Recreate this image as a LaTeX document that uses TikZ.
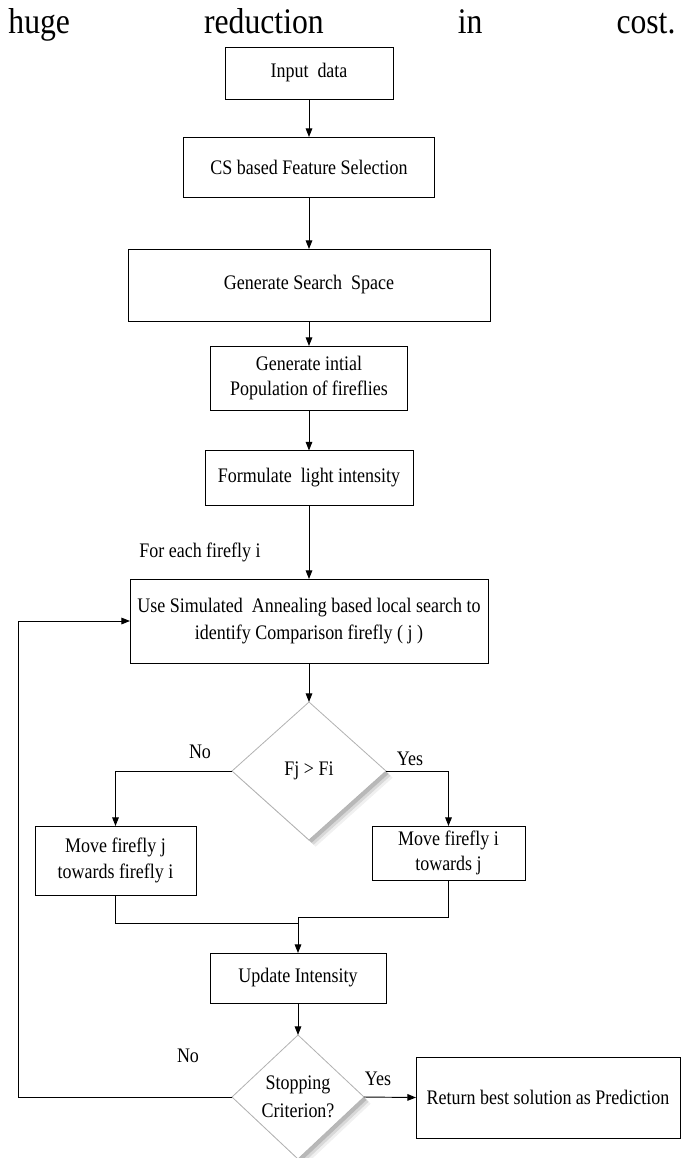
\documentclass[tikz,border=0pt]{standalone}
\usepackage{fontspec}
\setmainfont{Liberation Serif}
\newfontfamily\chartfont[FakeStretch=0.87]{Liberation Serif}
\newfontfamily\headfont[FakeStretch=0.88]{Liberation Serif}
\usetikzlibrary{arrows.meta,shapes.geometric,shadows}

\begin{document}
\begin{tikzpicture}[x=0.75pt, y=-0.75pt, line width=0.7pt,
    every node/.style={font=\chartfont\fontsize{15.5}{19}\selectfont},
    procbox/.style={draw, rectangle, inner sep=0pt, outer sep=0pt, align=center},
    decision/.style={draw=gray!60, line width=0.6pt, fill=white, diamond, inner sep=0pt, outer sep=0pt, align=center,
        drop shadow={shadow xshift=5pt, shadow yshift=-5pt, opacity=0.06, fill=black},
        drop shadow={shadow xshift=3.5pt, shadow yshift=-3.5pt, opacity=0.10, fill=black},
        drop shadow={shadow xshift=2pt, shadow yshift=-2pt, opacity=0.15, fill=black}},
    flow/.style={-{Triangle[length=6.5pt,width=5pt]}}]

    \useasboundingbox (0,0) rectangle (686,1158);

    % running text above the chart
    \node[anchor=base west, text width=500.25pt, inner sep=0pt, font=\headfont\fontsize{27}{30}\selectfont] (head) at (8,33)
        {huge\hfill reduction\hfill in\hfill cost.};

    \node[procbox, minimum width=126pt, minimum height=39pt] (input) at (309,73) {Input\ \ data};
    \node[procbox, minimum width=188.25pt, minimum height=45pt] (cs) at (309,167) {CS based Feature Selection};
    \node[procbox, minimum width=271.5pt, minimum height=54pt] (space) at (309,285) {Generate Search\ \ Space};
    \node[procbox, minimum width=147.75pt, minimum height=48pt] (pop) at (309,378) {Generate intial\\Population of fireflies};
    \node[procbox, minimum width=156pt, minimum height=41.25pt] (light) at (309,478) {Formulate\ \ light intensity};
    \node (each) at (200,552) {For each firefly i};
    \node[procbox, minimum width=268.5pt, minimum height=63pt, font=\chartfont\fontsize{15.5}{20}\selectfont] (search) at (309,621)
        {Use Simulated\ \ Annealing based local search to\\identify Comparison firefly ( j )};

    \node[decision, minimum width=115.5pt, minimum height=103.5pt] (cmp) at (309,771) {Fj > Fi};
    \node (cmpno) at (200,752) {No};
    \node (cmpyes) at (410,759) {Yes};
    \node[procbox, minimum width=120.75pt, minimum height=51.75pt] (movej) at (115.5,860.5) {Move firefly j\\towards firefly i};
    \node[procbox, minimum width=114.75pt, minimum height=40.5pt] (movei) at (448.5,853) {Move firefly i\\towards j};
    \coordinate (joinr) at (298,917);
    \coordinate (joinl) at (298,923);

    \node[procbox, minimum width=132pt, minimum height=37.5pt] (update) at (298,978) {Update Intensity};
    \node[decision, minimum width=99pt, minimum height=93pt, font=\chartfont\fontsize{15.5}{21}\selectfont] (stop) at (298,1097) {Stopping\\Criterion?};
    \node (stopno) at (188,1056) {No};
    \node (stopyes) at (378,1079) {Yes};
    \node[procbox, minimum width=198pt, minimum height=60.75pt] (result) at (548,1097.5) {Return best solution as Prediction};
    \coordinate (back) at (18,621);

    % main line
    \foreach \a/\b in {input/cs, cs/space, space/pop, pop/light, light/search, search/cmp} {
        \draw[flow] (\a) -- (\b);
    }
    \draw[flow] (cmp.west) -| (movej.north);
    \draw[flow] (cmp.east) -| (movei.north);
    \draw (movei.south) |- (joinr);
    \draw (movej.south) |- (joinl);
    \draw[flow] (joinr) -- (update.north);
    \draw[flow] (update) -- (stop);
    \draw[flow] (stop.east) -- (result.west);
    \draw[flow] (stop.west) -| (back) -- (search.west);
\end{tikzpicture}
\end{document}
